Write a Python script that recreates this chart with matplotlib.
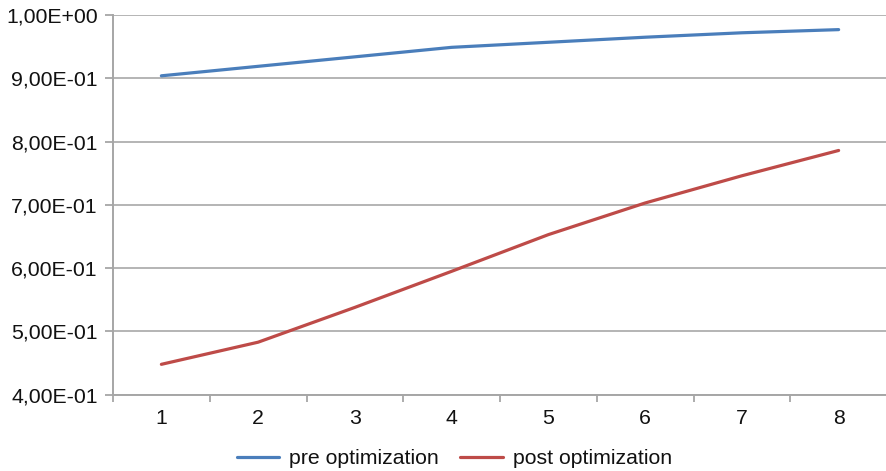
import matplotlib
matplotlib.use("Agg")
import matplotlib.pyplot as plt
import numpy as np

plt.rcParams['font.family'] = ['Liberation Sans', 'DejaVu Sans']

steps = [1, 2, 3, 4, 5, 6, 7, 8]
pre_optimization = [0.904, 0.919, 0.934, 0.949, 0.957, 0.965, 0.972, 0.977]
post_optimization = [0.448, 0.483, 0.538, 0.595, 0.653, 0.703, 0.746, 0.786]
y_ticks = [0.4, 0.5, 0.6, 0.7, 0.8, 0.9, 1.0]
y_tick_labels = ["4,00E-01", "5,00E-01", "6,00E-01", "7,00E-01",
                 "8,00E-01", "9,00E-01", "1,00E+00"]

fig = plt.figure(figsize=(8.87, 4.71), dpi=100)
ax = fig.add_axes([0.1274, 0.162, 0.8726, 0.806])

grid_color = "#b4b4b4"
axis_color = "#a6a6a6"
text_color = "#111111"
fs = 15.3

ax.plot(steps, pre_optimization, color="#4a7ebb", lw=2.3,
        solid_capstyle="round", label="pre optimization", zorder=3)
ax.plot(steps, post_optimization, color="#be4b48", lw=2.3,
        solid_capstyle="round", label="post optimization", zorder=3)

ax.set_xlim(0.5, len(steps) + 0.5)
ax.set_ylim(0.4, 1.0)

ax.set_yticks(y_ticks)
ax.set_yticklabels(y_tick_labels)
ax.set_xticks(steps)
ax.set_xticklabels([str(s) for s in steps])
ax.set_xticks(np.arange(0.5, len(steps) + 1, 1.0), minor=True)

ax.tick_params(axis="y", length=6, width=1.3, color=axis_color,
               labelsize=fs, pad=5, labelcolor=text_color)
ax.tick_params(axis="x", which="major", length=0, labelsize=fs,
               pad=10, labelcolor=text_color)
ax.tick_params(axis="x", which="minor", length=5, width=1.3,
               color=axis_color)

ax.yaxis.grid(True, color=grid_color, lw=1.4)
ax.set_axisbelow(True)

for side in ("top", "right"):
    ax.spines[side].set_visible(False)
for side in ("left", "bottom"):
    ax.spines[side].set_color(axis_color)
    ax.spines[side].set_linewidth(1.4)

leg = fig.legend(loc="center", bbox_to_anchor=(0.512, 0.026), ncol=2,
                 frameon=False, fontsize=fs, handlelength=2.0,
                 handletextpad=0.47, columnspacing=1.0,
                 borderpad=0, borderaxespad=0)
for t in leg.get_texts():
    t.set_color(text_color)

fig.savefig("out.png", dpi=100)
